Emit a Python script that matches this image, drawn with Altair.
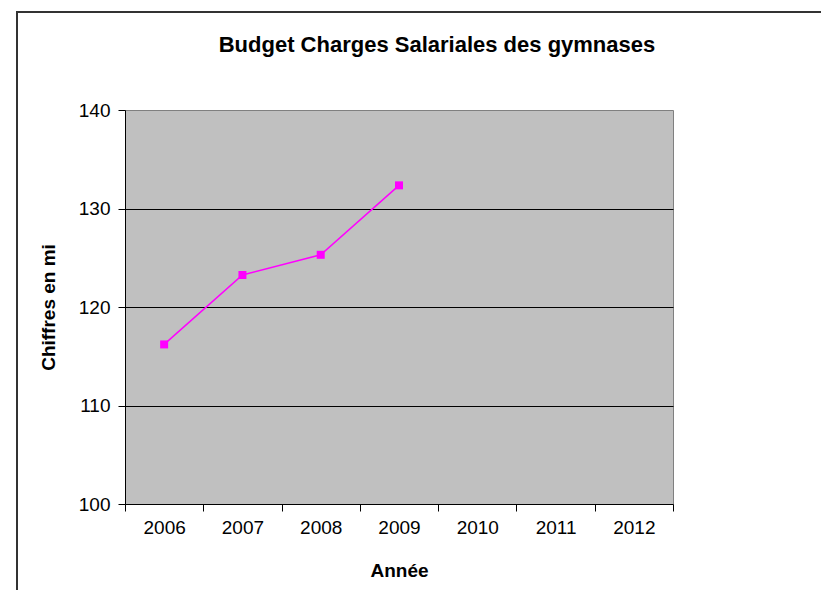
import altair as alt
import pandas as pd

years = ["2006", "2007", "2008", "2009", "2010", "2011", "2012"]
data_years = ["2006", "2007", "2008", "2009"]
values = [116.2, 123.25, 125.3, 132.35]
title_text = "Budget Charges Salariales des gymnases"

df = pd.DataFrame({"Année": data_years, "Valeur": values})
one_df = pd.DataFrame({"t": [title_text]})

FONT = "Liberation Sans"
W, H = 548, 394

x_enc = alt.X(
    "Année:O",
    scale=alt.Scale(type="band", domain=years, paddingInner=0, paddingOuter=0),
    axis=alt.Axis(
        title="Année",
        labelAngle=0,
        tickBand="extent",
        tickSize=7,
        tickColor="#000000",
        domainColor="#000000",
        labelPadding=7,
        labelFontSize=19,
        labelFont=FONT,
        labelColor="#000000",
        titleFont=FONT,
        titleFontSize=19,
        titleFontWeight="bold",
        titleColor="#000000",
        titleX=W / 2,
        titleY=66,
        titleBaseline="middle",
        grid=False,
    ),
)

y_enc = alt.Y(
    "Valeur:Q",
    scale=alt.Scale(domain=[100, 140], nice=False, zero=False),
    axis=alt.Axis(
        title="Chiffres en mi",
        values=[100, 110, 120, 130, 140],
        tickSize=7,
        tickColor="#000000",
        domainColor="#000000",
        labelPadding=8,
        labelFontSize=19,
        labelFont=FONT,
        labelColor="#000000",
        titleFont=FONT,
        titleFontSize=19,
        titleFontWeight="bold",
        titleColor="#000000",
        titleAngle=-90,
        titleX=-77,
        titleY=H / 2,
        titleBaseline="middle",
        titleAlign="center",
        grid=True,
        gridColor="#000000",
        gridOpacity={"condition": {"test": "datum.value == 140 || datum.value == 100", "value": 0}, "value": 1},
        gridWidth=1,
    ),
)

line = alt.Chart(df).mark_line(
    color="#FF00FF",
    strokeWidth=1.5,
    point=alt.OverlayMarkDef(shape="square", size=64, filled=True, color="#FF00FF", opacity=1),
).encode(x=x_enc, y=y_enc)

frame = alt.Chart(one_df).mark_rect(
    fill="transparent", stroke="#333333", strokeWidth=2, clip=False
).encode(
    x=alt.value(-108), x2=alt.value(W + 400),
    y=alt.value(-98), y2=alt.value(H + 400),
)

title = alt.Chart(one_df).mark_text(
    font=FONT, fontSize=22, fontWeight="bold", color="#000000",
    align="center", baseline="alphabetic",
).encode(
    text="t:N",
    x=alt.value(W / 2 + 38),
    y=alt.value(-58),
)

chart = alt.layer(frame, line, title).properties(
    width=W,
    height=H,
    autosize=alt.AutoSizeParams(type="none"),
    padding={"left": 117, "top": 102, "right": 148, "bottom": 86},
).configure(
    background="#FFFFFF"
).configure_view(
    fill="#C0C0C0", stroke="#808080", strokeWidth=1
)

chart.save("out.html", embed_options={"renderer": "svg", "actions": False})
